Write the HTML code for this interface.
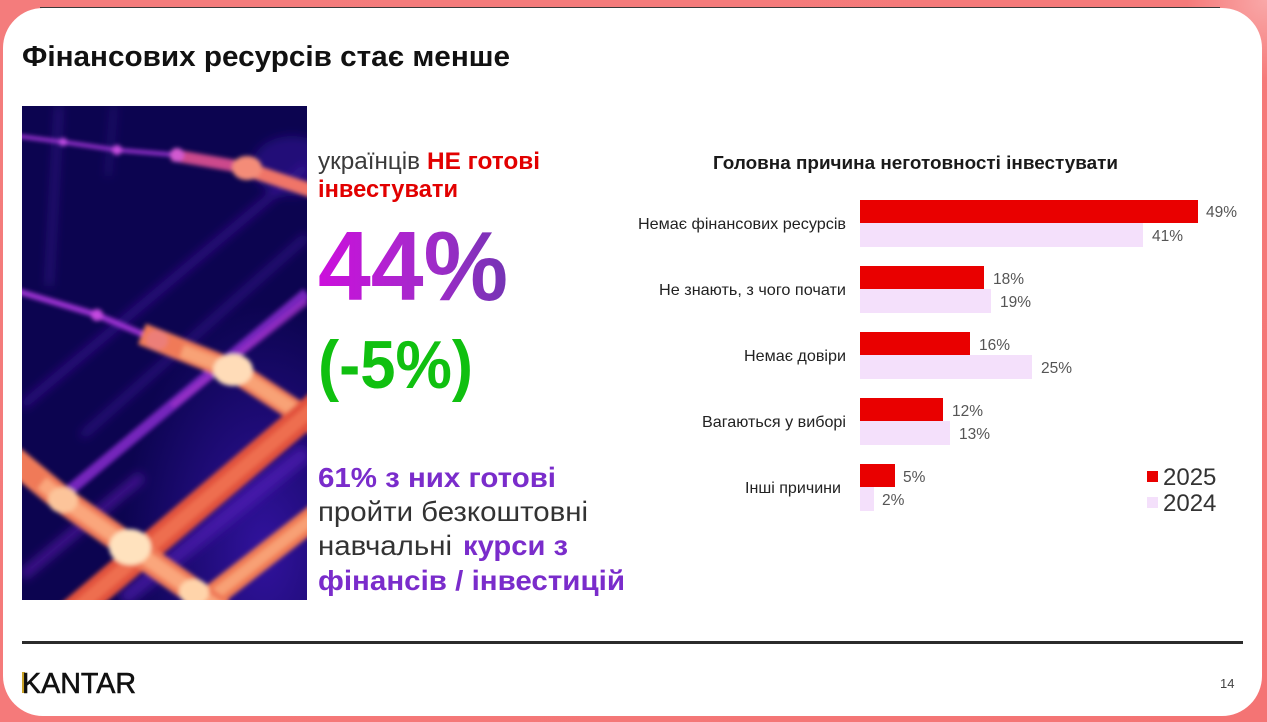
<!DOCTYPE html>
<html>
<head>
<meta charset="utf-8">
<style>
  html, body { margin:0; padding:0; }
  body { width:1267px; height:722px; overflow:hidden; background:#f47878; }
  svg { display:block; }
  text { font-family: "Liberation Sans", "DejaVu Sans", sans-serif; }
</style>
</head>
<body>
<svg width="1267" height="722" viewBox="0 0 1267 722" xmlns="http://www.w3.org/2000/svg">
  <defs>
    <linearGradient id="bgpink" x1="0" y1="0" x2="1" y2="1">
      <stop offset="0" stop-color="#f47c7c"/>
      <stop offset="0.5" stop-color="#f57a7a"/>
      <stop offset="1" stop-color="#f47474"/>
    </linearGradient>
    <radialGradient id="trcorner" cx="1267" cy="0" r="80" gradientUnits="userSpaceOnUse">
      <stop offset="0" stop-color="#f9a8a8"/>
      <stop offset="1" stop-color="#f9a8a8" stop-opacity="0"/>
    </radialGradient>
    <linearGradient id="g44" x1="318" y1="0" x2="508" y2="0" gradientUnits="userSpaceOnUse">
      <stop offset="0" stop-color="#cc0fdc"/>
      <stop offset="0.55" stop-color="#a52acb"/>
      <stop offset="1" stop-color="#7434b4"/>
    </linearGradient>
    <clipPath id="imgclip"><rect x="0" y="0" width="285" height="494"/></clipPath>
    <filter id="blur2" x="-20%" y="-20%" width="140%" height="140%"><feGaussianBlur stdDeviation="2.2"/></filter>
    <filter id="blur5" x="-50%" y="-50%" width="200%" height="200%"><feGaussianBlur stdDeviation="5"/></filter>
    <radialGradient id="imgglow" cx="0.85" cy="0.9" r="0.5">
      <stop offset="0" stop-color="#3a16b0" stop-opacity="0.8"/>
      <stop offset="1" stop-color="#3a16b0" stop-opacity="0"/>
    </radialGradient>
  </defs>

  <!-- frame -->
  <rect x="0" y="0" width="1267" height="722" fill="url(#bgpink)"/>
  <rect x="1150" y="0" width="117" height="90" fill="url(#trcorner)"/>
  <rect x="3" y="8" width="1259" height="708" rx="40" ry="40" fill="#ffffff"/>
  <line x1="40" y1="7.5" x2="1220" y2="7.5" stroke="#3a3a3a" stroke-width="1"/>

  <!-- title -->
  <text x="22" y="66" font-size="29" font-weight="bold" fill="#111" textLength="488" lengthAdjust="spacingAndGlyphs">Фінансових ресурсів стає менше</text>

  <!-- image -->
  <g transform="translate(22,106)" clip-path="url(#imgclip)">
    <rect x="0" y="0" width="285" height="494" fill="#0c0450"/>
    <rect x="0" y="0" width="285" height="494" fill="url(#imgglow)"/>
    <g filter="url(#blur5)">
      <line x1="0" y1="300" x2="285" y2="60" stroke="#4a1aa8" stroke-width="8" opacity="0.6"/>
      <line x1="60" y1="330" x2="285" y2="130" stroke="#5520b8" stroke-width="6" opacity="0.55"/>
      <line x1="100" y1="494" x2="285" y2="345" stroke="#5a20c0" stroke-width="16" opacity="0.6"/>
      <line x1="0" y1="470" x2="120" y2="370" stroke="#6a22c0" stroke-width="10" opacity="0.6"/>
      <line x1="37" y1="0" x2="27" y2="180" stroke="#5a28c0" stroke-width="4" opacity="0.6"/>
      <line x1="92" y1="0" x2="86" y2="70" stroke="#5a28c0" stroke-width="3" opacity="0.5"/>
      <ellipse cx="270" cy="60" rx="40" ry="30" fill="#3a1aa0" opacity="0.5"/>
    </g>
    <g filter="url(#blur2)">
      <line x1="48" y1="384" x2="285" y2="187" stroke="#8128c8" stroke-width="11" opacity="0.9"/>
      <line x1="150" y1="300" x2="285" y2="195" stroke="#a030c8" stroke-width="7" opacity="0.7"/>
      <!-- Line A -->
      <polyline points="-5,30 41,36 95,44 155,49" fill="none" stroke="#9a30d0" stroke-width="4"/>
      <polyline points="150,49 225,62 300,88" fill="none" stroke="#cc4a8c" stroke-width="12"/>
      <polyline points="215,60 300,88" fill="none" stroke="#f07468" stroke-width="14"/>
      <circle cx="41" cy="36" r="4" fill="#c24ee6"/>
      <circle cx="95" cy="44" r="5" fill="#c64ee0"/>
      <circle cx="155" cy="49" r="7" fill="#d25ad0"/>
      <ellipse cx="225" cy="62" rx="15" ry="12" fill="#f48c78"/>
      <!-- Line B -->
      <polyline points="-5,185 75,209 135,234" fill="none" stroke="#9c30d2" stroke-width="6"/>
      <polyline points="120,228 211,264 300,322" fill="none" stroke="#f07a58" stroke-width="22"/>
      <polyline points="160,245 211,264 300,322" fill="none" stroke="#f8a276" stroke-width="13"/>
      <circle cx="75" cy="209" r="6" fill="#c448e0"/>
      <ellipse cx="135" cy="234" rx="11" ry="10" fill="#ec7e78"/>
      <ellipse cx="211" cy="264" rx="20" ry="16" fill="#ffdcb8"/>
      <!-- Line D -->
      <line x1="40" y1="515" x2="300" y2="295" stroke="#e2523e" stroke-width="28"/>
      <line x1="40" y1="515" x2="300" y2="295" stroke="#ee6e50" stroke-width="13"/>
      <!-- Line E -->
      <line x1="165" y1="510" x2="300" y2="405" stroke="#f07a54" stroke-width="24"/>
      <line x1="165" y1="510" x2="300" y2="405" stroke="#f8a074" stroke-width="11"/>
      <!-- Line C -->
      <polyline points="-10,352 41,394 108,441 200,505" fill="none" stroke="#f07a58" stroke-width="26"/>
      <polyline points="20,377 41,394 108,441 200,505" fill="none" stroke="#faa67c" stroke-width="14"/>
      <ellipse cx="41" cy="394" rx="15" ry="13" fill="#fcc49a"/>
      <ellipse cx="108" cy="441" rx="21" ry="18" fill="#ffe2be"/>
      <ellipse cx="172" cy="486" rx="15" ry="13" fill="#ffd4aa"/>
    </g>
  </g>

  <!-- left text block -->
  <text x="318" y="169" font-size="24" fill="#3a3a3a" textLength="102" lengthAdjust="spacingAndGlyphs">українців</text>
  <text x="427" y="169" font-size="24" font-weight="bold" fill="#e20000" textLength="113" lengthAdjust="spacingAndGlyphs">НЕ готові</text>
  <text x="318" y="197" font-size="24" font-weight="bold" fill="#e20000" textLength="140" lengthAdjust="spacingAndGlyphs">інвестувати</text>

  <text x="318" y="300" font-size="98" font-weight="bold" fill="url(#g44)" textLength="190" lengthAdjust="spacingAndGlyphs">44%</text>
  <text x="318" y="388" font-size="68" font-weight="bold" fill="#10c010" textLength="155" lengthAdjust="spacingAndGlyphs">(-5%)</text>

  <text x="318" y="487" font-size="28" font-weight="bold" fill="#7a2ccb" textLength="238" lengthAdjust="spacingAndGlyphs">61% з них готові</text>
  <text x="318" y="521" font-size="28" fill="#333" textLength="270" lengthAdjust="spacingAndGlyphs">пройти безкоштовні</text>
  <text x="318" y="555" font-size="28" fill="#333" textLength="134" lengthAdjust="spacingAndGlyphs">навчальні</text>
  <text x="463" y="555" font-size="28" font-weight="bold" fill="#7a2ccb" textLength="105" lengthAdjust="spacingAndGlyphs">курси з</text>
  <text x="318" y="590" font-size="28" font-weight="bold" fill="#7a2ccb" textLength="307" lengthAdjust="spacingAndGlyphs">фінансів / інвестицій</text>

  <!-- chart title -->
  <text x="713" y="169" font-size="18" font-weight="bold" fill="#1a1a1a" textLength="405" lengthAdjust="spacingAndGlyphs">Головна причина неготовності інвестувати</text>

  <!-- category labels -->
  <g font-size="16" fill="#222" text-anchor="end">
    <text x="846" y="229" textLength="208" lengthAdjust="spacingAndGlyphs">Немає фінансових ресурсів</text>
    <text x="846" y="295" textLength="187" lengthAdjust="spacingAndGlyphs">Не знають, з чого почати</text>
    <text x="846" y="361" textLength="102" lengthAdjust="spacingAndGlyphs">Немає довіри</text>
    <text x="846" y="427" textLength="144" lengthAdjust="spacingAndGlyphs">Вагаються у виборі</text>
    <text x="841" y="493" textLength="96" lengthAdjust="spacingAndGlyphs">Інші причини</text>
  </g>

  <!-- bars -->
  <g fill="#e90000">
    <rect x="860" y="200" width="338" height="23"/>
    <rect x="860" y="266" width="124" height="23"/>
    <rect x="860" y="332" width="110" height="23"/>
    <rect x="860" y="398" width="83" height="23"/>
    <rect x="860" y="464" width="35" height="23"/>
  </g>
  <g fill="#f4e0fb">
    <rect x="860" y="223" width="283" height="24"/>
    <rect x="860" y="289" width="131" height="24"/>
    <rect x="860" y="355" width="172" height="24"/>
    <rect x="860" y="421" width="90" height="24"/>
    <rect x="860" y="487" width="14" height="24"/>
  </g>

  <!-- values -->
  <g font-size="15.5" fill="#555">
    <text x="1206" y="217">49%</text>
    <text x="1152" y="241">41%</text>
    <text x="993" y="284">18%</text>
    <text x="1000" y="307">19%</text>
    <text x="979" y="350">16%</text>
    <text x="1041" y="373">25%</text>
    <text x="952" y="416">12%</text>
    <text x="959" y="439">13%</text>
    <text x="903" y="482">5%</text>
    <text x="882" y="505">2%</text>
  </g>

  <!-- legend -->
  <rect x="1147" y="471" width="11" height="11" fill="#e90000"/>
  <text x="1163" y="485" font-size="24" fill="#333">2025</text>
  <rect x="1147" y="497" width="11" height="11" fill="#f4e0fb"/>
  <text x="1163" y="511" font-size="24" fill="#333">2024</text>

  <!-- footer -->
  <rect x="22" y="641" width="1221" height="3" fill="#2b2b2b"/>
  <rect x="22" y="672" width="3" height="21" fill="#c9a227"/>
  <text x="22" y="693" font-size="29" fill="#111" stroke="#111" stroke-width="0.6" textLength="114" lengthAdjust="spacingAndGlyphs">KANTAR</text>
  <text x="1220" y="688" font-size="13" fill="#444">14</text>
</svg>
</body>
</html>
